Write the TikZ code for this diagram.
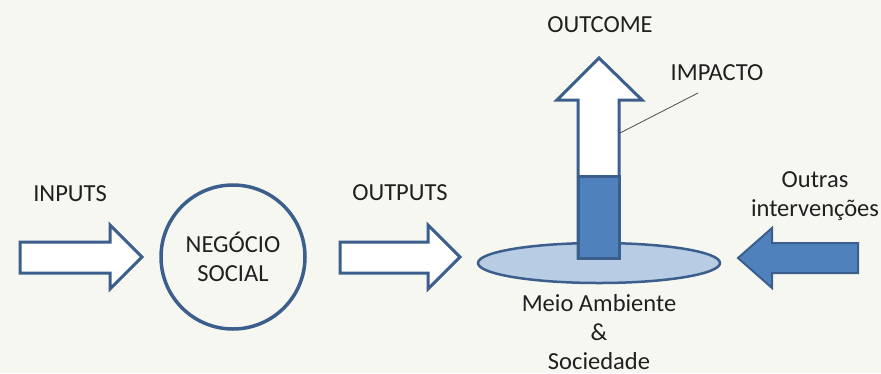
\documentclass[tikz,border=0pt]{standalone}
\usepackage{fontspec}
\setmainfont{Carlito}
\usetikzlibrary{positioning,shapes.geometric}
\definecolor{bgcol}{HTML}{F6F7F1}
\definecolor{edgeblue}{HTML}{3B5E8C}
\definecolor{fillblue}{HTML}{4F81BD}
\definecolor{paleblue}{HTML}{B8CCE4}
\definecolor{txtcol}{HTML}{202020}
\tikzset{
  outl/.style={draw=edgeblue, line width=3pt, line join=miter},
  lbl/.style={font=\fontsize{24.5}{29}\selectfont, text=txtcol, align=center, inner sep=0pt},
}

\begin{document}
\begin{tikzpicture}[x=1pt,y=-1pt]
	\fill[bgcol] (0,0) rectangle (881,373);
	\useasboundingbox (0,0) rectangle (881,373);

	% inputs
	\draw[outl, fill=white] (20,242) -- (110,242) -- (110,225) -- (142,257)
		-- (110,289) -- (110,273) -- (20,273) -- cycle;
	\node[lbl] (inputs) at (70,194) {INPUTS};

	% negocio social
	\node[lbl, circle, draw=edgeblue, line width=3.5pt, minimum size=144pt] (negocio) at (233,257) {NEGÓCIO\\SOCIAL};

	% outputs
	\draw[outl, fill=white] (340,242) -- (428,242) -- (428,225) -- (460,257)
		-- (428,289) -- (428,273) -- (340,273) -- cycle;
	\node[lbl] (outputs) at (400,193) {OUTPUTS};

	% meio ambiente
	\node[ellipse, draw=edgeblue, line width=2.5pt, fill=paleblue,
		minimum width=242pt, minimum height=40pt] (base) at (599,263) {};
	\node[lbl] (meio) at (599,332) {Meio Ambiente\\\&\\Sociedade};

	% outcome / impacto
	\draw[outl, fill=white] (578,258) -- (578,100) -- (557,100) -- (599,58)
		-- (642,100) -- (619,100) -- (619,258) -- cycle;
	\draw[outl, fill=fillblue] (578,176) rectangle (619,258);
	\node[lbl] (outcome) at (600,25) {OUTCOME};
	\node[lbl] (impacto) at (717,73) {IMPACTO};
	\coordinate (imp) at (620,133);
	\draw[black!70, line width=0.8pt] (698,93) -- (imp);

	% outras intervencoes
	\draw[draw=edgeblue, line width=2pt, fill=fillblue] (858,243) -- (772,243)
		-- (772,228) -- (738,258) -- (772,288) -- (772,273) -- (858,273) -- cycle;
	\node[lbl] (outras) at (815,196) {Outras\\intervenções};
\end{tikzpicture}
\end{document}
